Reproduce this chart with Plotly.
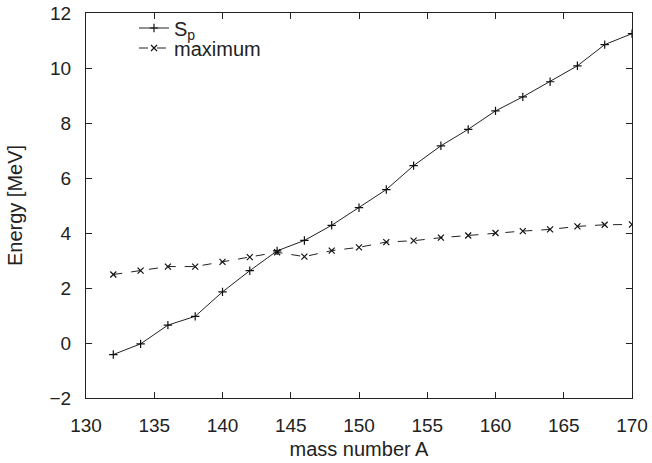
import plotly.graph_objects as go

mass_number = [132, 134, 136, 138, 140, 142, 144, 146, 148, 150,
               152, 154, 156, 158, 160, 162, 164, 166, 168, 170]
sp_values = [-0.42, -0.03, 0.65, 0.97, 1.86, 2.63, 3.35, 3.73, 4.28, 4.92,
             5.58, 6.45, 7.17, 7.77, 8.44, 8.95, 9.5, 10.08, 10.85, 11.25]
max_values = [2.49, 2.63, 2.78, 2.78, 2.95, 3.12, 3.3, 3.14, 3.36, 3.48,
              3.67, 3.72, 3.83, 3.91, 4.0, 4.07, 4.13, 4.24, 4.3, 4.31]

x_ticks = [130, 135, 140, 145, 150, 155, 160, 165, 170]
y_ticks = [-2, 0, 2, 4, 6, 8, 10, 12]

font_family = "Liberation Sans, Arial, Helvetica, sans-serif"
W, H = 652, 463
ML, MR, MT, MB = 86, 20, 13, 65
PW, PH = W - ML - MR, H - MT - MB

fig = go.Figure()
fig.add_trace(go.Scatter(
    x=mass_number, y=sp_values, mode="lines+markers", name="S<sub>p</sub>",
    line=dict(color="#222222", width=1),
    marker=dict(symbol="cross-thin", size=6, color="#111111",
                line=dict(color="#111111", width=1.2)),
    legend="legend",
))
fig.add_trace(go.Scatter(
    x=mass_number, y=max_values, mode="lines+markers", name="maximum",
    line=dict(color="#222222", width=1, dash="dash"),
    marker=dict(symbol="x-thin", size=6, color="#111111",
                line=dict(color="#111111", width=1.2)),
    legend="legend2",
))

axis_common = dict(
    automargin=False,
    showgrid=False, zeroline=False, showline=True, linecolor="#222222",
    linewidth=1.2, mirror="ticks", ticks="inside", ticklen=6,
    tickcolor="#222222", tickwidth=1,
    tickfont=dict(family=font_family, size=19, color="#222222"),
)


def leg(px, py):
    return dict(x=(px - ML) / PW, y=(H - MB - py) / PH, xanchor="left",
                yanchor="middle", bgcolor="rgba(0,0,0,0)",
                font=dict(family=font_family, size=20, color="#222222"),
                borderwidth=0, itemwidth=30)


fig.update_layout(
    width=W, height=H,
    margin=dict(l=ML, r=MR, t=MT, b=MB, autoexpand=False),
    paper_bgcolor="white", plot_bgcolor="white",
    font=dict(family=font_family, size=19, color="#222222"),
    xaxis=dict(range=[130, 170], tickvals=x_ticks, ticklabelstandoff=10,
               title=dict(text="mass number A", font=dict(size=20), standoff=7),
               **axis_common),
    yaxis=dict(range=[-2, 12], tickvals=y_ticks, ticklabelstandoff=10,
               title=dict(text="Energy [MeV]", font=dict(size=20), standoff=21),
               **axis_common),
    legend=leg(134, 28),
    legend2=leg(134, 48),
    showlegend=True,
)

fig.write_html("out.html", config={"displayModeBar": False},
               post_script="document.body.style.margin='0';")
